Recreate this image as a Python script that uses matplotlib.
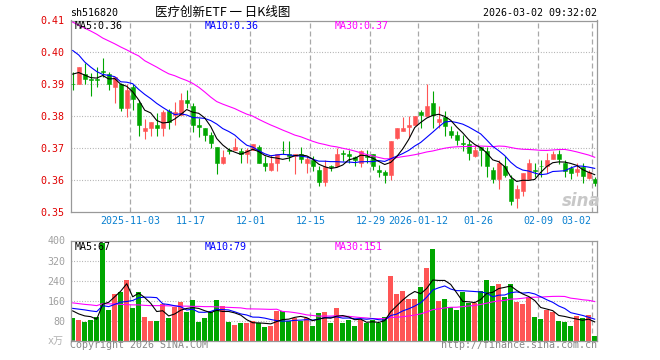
import matplotlib
matplotlib.use('Agg')
import matplotlib.pyplot as plt
from matplotlib.patches import Rectangle
import numpy as np
import pandas as pd

plt.rcParams['font.family'] = ['DejaVu Sans Mono', 'Noto Sans CJK SC']

# ---------------- data ----------------
opens = [0.3901, 0.3900, 0.3932, 0.3915, 0.3915, 0.3941, 0.3932, 0.3893, 0.3900, 0.3825,
         0.3893, 0.3843, 0.3755, 0.3764, 0.3773, 0.3764, 0.3818, 0.3805, 0.3804, 0.3851,
         0.3832, 0.3773, 0.3762, 0.3742, 0.3703, 0.3655, 0.3695, 0.3693, 0.3692, 0.3682,
         0.3695, 0.3703, 0.3655, 0.3632, 0.3655, 0.3694, 0.3681, 0.3674, 0.3681, 0.3655,
         0.3664, 0.3632, 0.3593, 0.3643, 0.3643, 0.3682, 0.3681, 0.3672, 0.3653, 0.3673,
         0.3681, 0.3632, 0.3624, 0.3615, 0.3731, 0.3754, 0.3765, 0.3773, 0.3814, 0.3801,
         0.3841, 0.3783, 0.3799, 0.3754, 0.3742, 0.3714, 0.3713, 0.3674, 0.3703, 0.3690,
         0.3632, 0.3604, 0.3643, 0.3603, 0.3544, 0.3565, 0.3603, 0.3631, 0.3644, 0.3643,
         0.3666, 0.3682, 0.3655, 0.3638, 0.3624, 0.3641, 0.3606, 0.3603]
highs = [0.3940, 0.3955, 0.3966, 0.3934, 0.3955, 0.3981, 0.3940, 0.3922, 0.3905, 0.3900,
         0.3900, 0.3851, 0.3791, 0.3782, 0.3809, 0.3820, 0.3824, 0.3844, 0.3874, 0.3882,
         0.3841, 0.3794, 0.3762, 0.3752, 0.3703, 0.3693, 0.3700, 0.3731, 0.3700, 0.3700,
         0.3713, 0.3710, 0.3674, 0.3679, 0.3681, 0.3723, 0.3723, 0.3681, 0.3703, 0.3674,
         0.3674, 0.3643, 0.3664, 0.3648, 0.3700, 0.3695, 0.3695, 0.3674, 0.3695, 0.3693,
         0.3681, 0.3648, 0.3632, 0.3723, 0.3763, 0.3799, 0.3801, 0.3801, 0.3820, 0.3900,
         0.3880, 0.3832, 0.3815, 0.3768, 0.3754, 0.3742, 0.3726, 0.3710, 0.3703, 0.3703,
         0.3641, 0.3664, 0.3674, 0.3617, 0.3585, 0.3622, 0.3666, 0.3655, 0.3664, 0.3684,
         0.3690, 0.3693, 0.3664, 0.3643, 0.3655, 0.3655, 0.3632, 0.3611]
lows = [0.3882, 0.3900, 0.3900, 0.3862, 0.3893, 0.3924, 0.3882, 0.3841, 0.3815, 0.3799,
        0.3820, 0.3739, 0.3729, 0.3739, 0.3739, 0.3739, 0.3760, 0.3773, 0.3804, 0.3825,
        0.3752, 0.3736, 0.3721, 0.3700, 0.3620, 0.3651, 0.3683, 0.3693, 0.3653, 0.3653,
        0.3693, 0.3653, 0.3629, 0.3629, 0.3629, 0.3681, 0.3661, 0.3620, 0.3653, 0.3622,
        0.3629, 0.3580, 0.3580, 0.3630, 0.3641, 0.3661, 0.3653, 0.3643, 0.3641, 0.3653,
        0.3632, 0.3609, 0.3592, 0.3600, 0.3729, 0.3754, 0.3736, 0.3773, 0.3762, 0.3801,
        0.3762, 0.3762, 0.3739, 0.3733, 0.3710, 0.3690, 0.3664, 0.3672, 0.3643, 0.3611,
        0.3591, 0.3572, 0.3611, 0.3523, 0.3513, 0.3551, 0.3603, 0.3611, 0.3611, 0.3622,
        0.3666, 0.3651, 0.3611, 0.3603, 0.3614, 0.3591, 0.3604, 0.3580]
closes = [0.3900, 0.3954, 0.3916, 0.3914, 0.3914, 0.3940, 0.3900, 0.3922, 0.3825, 0.3882,
          0.3853, 0.3773, 0.3762, 0.3782, 0.3764, 0.3814, 0.3783, 0.3814, 0.3851, 0.3843,
          0.3773, 0.3765, 0.3742, 0.3716, 0.3655, 0.3672, 0.3692, 0.3703, 0.3682, 0.3693,
          0.3713, 0.3655, 0.3643, 0.3653, 0.3681, 0.3693, 0.3674, 0.3681, 0.3666, 0.3666,
          0.3643, 0.3593, 0.3641, 0.3640, 0.3681, 0.3681, 0.3674, 0.3664, 0.3690, 0.3672,
          0.3643, 0.3624, 0.3615, 0.3723, 0.3763, 0.3763, 0.3773, 0.3801, 0.3803, 0.3832,
          0.3804, 0.3791, 0.3768, 0.3742, 0.3726, 0.3713, 0.3684, 0.3693, 0.3693, 0.3643,
          0.3604, 0.3655, 0.3615, 0.3533, 0.3572, 0.3622, 0.3653, 0.3630, 0.3643, 0.3664,
          0.3682, 0.3666, 0.3627, 0.3622, 0.3634, 0.3614, 0.3624, 0.3591]
volumes = [91, 83, 75, 83, 96, 392, 121, 185, 195, 244,
           131, 195, 96, 80, 80, 147, 91, 136, 155, 115,
           163, 75, 91, 115, 163, 139, 75, 63, 71, 71,
           79, 71, 55, 60, 117, 119, 79, 91, 79, 91,
           60, 111, 115, 72, 132, 72, 83, 60, 83, 69,
           83, 69, 96, 260, 187, 199, 168, 168, 216, 292,
           367, 160, 168, 136, 124, 196, 152, 152, 200, 243,
           219, 227, 176, 227, 155, 148, 176, 96, 88, 124,
           116, 80, 76, 60, 100, 92, 103, 20]

# moving-average values before enough visible days exist
ma5_head = [0.3932, 0.3937, 0.3929, 0.3921]
ma10_head = [0.4006, 0.3992, 0.3970, 0.3954, 0.3940, 0.3931, 0.3928, 0.3924, 0.3908]
ma30_head = [0.4095, 0.4085, 0.4076, 0.4067, 0.4057, 0.4045, 0.4036, 0.4027, 0.4017, 0.4008,
             0.3998, 0.3989, 0.3974, 0.3964, 0.3954, 0.3943, 0.3933, 0.3927, 0.3919, 0.3912,
             0.3903, 0.3891, 0.3876, 0.3860, 0.3846, 0.3838, 0.3831, 0.3824, 0.3815]
vma5_head = [119, 107, 99, 96]
vma10_head = [129, 126, 123, 119, 116, 140, 136, 145, 154]
vma30_head = [151, 148, 145, 143, 140, 148, 147, 147, 145, 144, 143, 143, 141, 140, 140,
              140, 139, 139, 138, 138, 137, 137, 136, 136, 135, 134, 133, 132, 131]

tick_idx = [10, 20, 30, 40, 50, 58, 68, 78, 87]
tick_labels = ['2025-11-03', '11-17', '12-01', '12-15', '12-29', '2026-01-12', '01-26', '02-09', '03-02']
price_ticks = [0.35, 0.36, 0.37, 0.38, 0.39, 0.40, 0.41]
vol_ticks = [80, 160, 240, 320, 400]
vol_ma_labels = [67, 79, 151]

code = 'sh516820'
title = '医疗创新ETF 一 日K线图'
stamp = '2026-03-02 09:32:02'

# ---------------- helpers ----------------
W, H = 660, 360
RED = '#ff5555'
GREEN = '#00a600'
GRID = '#a8a8a8'
LW = 0.8


def ma(vals, n, head):
    s = pd.Series(vals, dtype=float).rolling(n).mean().to_numpy()
    s[:n - 1] = head
    return s


fig = plt.figure(figsize=(W / 100, H / 100), dpi=100)
L, R = 70.5, 597.0
ax = fig.add_axes([L / W, 1 - 212 / H, (R - L) / W, (212 - 20.5) / H])
axv = fig.add_axes([L / W, 1 - 340.7 / H, (R - L) / W, 100.2 / H])

n = len(closes)
x = np.arange(n)
XL = (-0.37, 87.38)


def T(xp, yp, s, **kw):
    fig.text(xp / W, 1 - yp / H, s, **kw)


for a in (ax, axv):
    a.set_xlim(*XL)
    a.set_xticks([])
    for sp in a.spines.values():
        sp.set_color('#999999')
        sp.set_linewidth(0.9)
    for k in tick_idx:
        a.axvline(k - 0.4, color=GRID, lw=0.9, dashes=(4.0, 2.4), zorder=0)

# ---------------- price panel ----------------
ax.set_ylim(0.35, 0.41)
ax.set_yticks(price_ticks)
ax.set_yticklabels([f'{v:.2f}' for v in price_ticks], color='#e00000', fontsize=7.2)
ax.tick_params(axis='y', length=0, pad=4.5)
for v in price_ticks[1:-1]:
    ax.axhline(v, color=GRID, lw=0.8, dashes=(0.8, 1.6), zorder=0)

bw = 0.72
for i in range(n):
    o, h, l, c = opens[i], highs[i], lows[i], closes[i]
    col = RED if c > o else GREEN
    ax.vlines(i, l, h, color=col, lw=0.8, zorder=2)
    lo = min(o, c)
    hgt = max(abs(c - o), 0.00025)
    ax.add_patch(Rectangle((i - bw / 2, lo), bw, hgt, facecolor=col, edgecolor=col, lw=0.4, zorder=3))

m5 = ma(closes, 5, ma5_head)
m10 = ma(closes, 10, ma10_head)
m30 = ma(closes, 30, ma30_head)
ax.plot(x, m30, color='#ff00ff', lw=LW, zorder=4)
ax.plot(x, m10, color='#0000ff', lw=LW, zorder=4)
ax.plot(x, m5, color='black', lw=LW, zorder=5)

# ---------------- volume panel ----------------
axv.set_ylim(0, 400)
axv.set_yticks(vol_ticks)
axv.set_yticklabels([str(v) for v in vol_ticks], color='#a0a0a0', fontsize=7.2)
axv.tick_params(axis='y', length=0, pad=3.5)
for v in vol_ticks[:-1]:
    axv.axhline(v, color=GRID, lw=0.8, dashes=(0.8, 1.6), zorder=0)
vcols = [RED if closes[i] > opens[i] else GREEN for i in range(n)]
axv.bar(x, volumes, width=0.84, color=vcols, zorder=2)
v5 = ma(volumes, 5, vma5_head)
v10 = ma(volumes, 10, vma10_head)
v30 = ma(volumes, 30, vma30_head)
axv.plot(x, v30, color='#ff00ff', lw=LW, zorder=4)
axv.plot(x, v10, color='#0000ff', lw=LW, zorder=4)
axv.plot(x, v5, color='black', lw=LW, zorder=5)

# ---------------- texts ----------------
fs = 7.2
T(70, 13.5, code, fontsize=fs, color='black', ha='left', va='center')
T(223, 12, title, fontsize=9, color='black', ha='center', va='center',
  family=['Noto Sans CJK SC', 'DejaVu Sans'])
T(597, 12.5, stamp, fontsize=fs, color='black', ha='right', va='center')

T(75, 26, f'MA5:{m5[-1]:.2f}', fontsize=fs, color='black', ha='left', va='center', zorder=10)
T(205, 26, f'MA10:{m10[-1]:.2f}', fontsize=fs, color='#0000ff', ha='left', va='center')
T(335, 26, f'MA30:{m30[-1]:.2f}', fontsize=fs, color='#ff00ff', ha='left', va='center')

T(75, 246.5, f'MA5:{vol_ma_labels[0]}', fontsize=fs, color='black', ha='left', va='center')
T(205, 246.5, f'MA10:{vol_ma_labels[1]}', fontsize=fs, color='#0000ff', ha='left', va='center')
T(335, 246.5, f'MA30:{vol_ma_labels[2]}', fontsize=fs, color='#ff00ff', ha='left', va='center')

for k, lab in zip(tick_idx, tick_labels):
    xp = 72.7 + 6.0 * (k - 0.4)
    if k == tick_idx[-1]:
        T(xp - 1, 221, lab, fontsize=fs, color='#0a80d0', ha='right', va='center')
    else:
        T(xp, 221, lab, fontsize=fs, color='#0a80d0', ha='center', va='center')

T(64, 340.5, 'x万', fontsize=fs, color='#b0b0b0', ha='right', va='center')
T(70, 345.5, 'Copyright 2026 SINA.COM', fontsize=fs, color='#888888', ha='left', va='center')
T(597, 345.5, 'http://finance.sina.com.cn', fontsize=fs, color='#888888', ha='right', va='center')

T(581, 201, 'sina', fontsize=12, color='#c8c8c8', ha='center', va='center',
  family='DejaVu Sans', style='italic', weight='bold')

fig.savefig('out.png', dpi=100)
